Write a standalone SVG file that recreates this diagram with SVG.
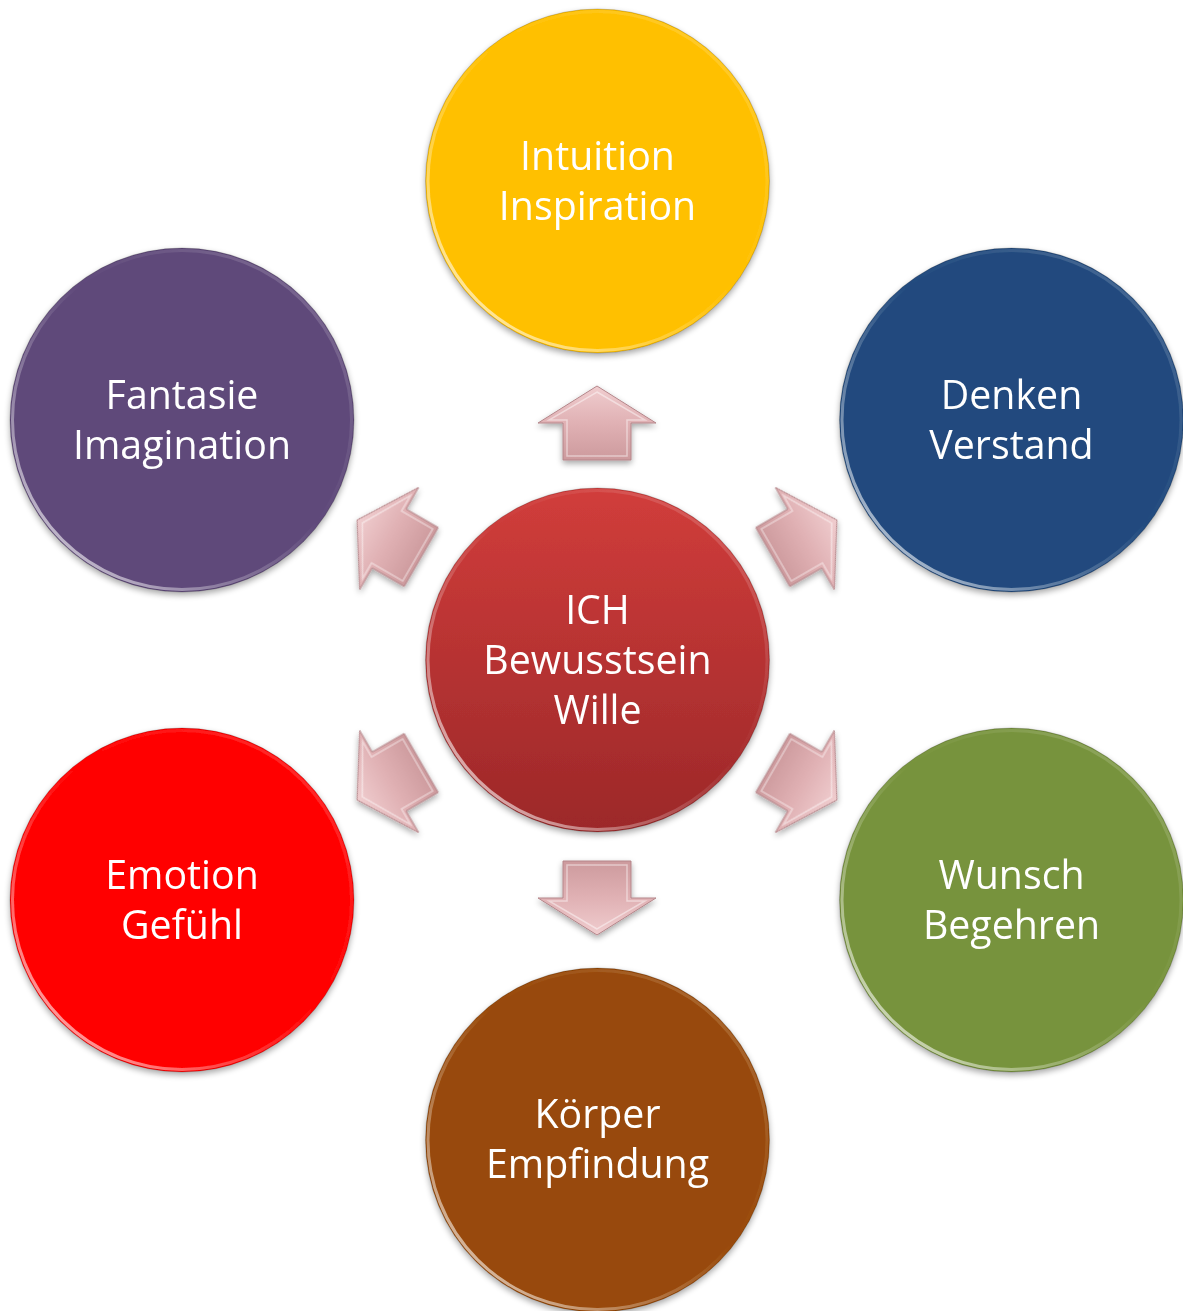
<svg xmlns="http://www.w3.org/2000/svg" width="1183" height="1311" viewBox="0 0 1183 1311">
<style>
.lbl{font-family:"Open Sans","Liberation Sans",sans-serif;font-size:39.3px;fill:#ffffff;text-anchor:middle}
.rim{fill:none;stroke:url(#rimG);stroke-width:3}
.edge{fill:none;stroke:#000;stroke-opacity:0.18;stroke-width:1}
</style>
<defs>
<filter id="sh" x="-20%" y="-20%" width="140%" height="140%">
<feGaussianBlur in="SourceAlpha" stdDeviation="3"/>
<feOffset dx="0" dy="3" result="b"/>
<feComponentTransfer><feFuncA type="linear" slope="0.35"/></feComponentTransfer>
<feMerge><feMergeNode/><feMergeNode in="SourceGraphic"/></feMerge>
</filter>
<linearGradient id="rimG" x1="0" y1="1" x2="1" y2="0">
<stop offset="0" stop-color="#fff" stop-opacity="0.85"/>
<stop offset="0.3" stop-color="#fff" stop-opacity="0.3"/>
<stop offset="0.55" stop-color="#fff" stop-opacity="0"/>
<stop offset="0.85" stop-color="#fff" stop-opacity="0.15"/>
<stop offset="1" stop-color="#fff" stop-opacity="0.05"/>
</linearGradient>
<linearGradient id="redG" x1="0" y1="0" x2="0" y2="1">
<stop offset="0" stop-color="#d13d3b"/>
<stop offset="1" stop-color="#9c2829"/>
</linearGradient>
<linearGradient id="arrG" x1="0" y1="0" x2="0" y2="1">
<stop offset="0" stop-color="#f0cdcf"/>
<stop offset="0.5" stop-color="#e0b1b4"/>
<stop offset="1" stop-color="#cd9a9d"/>
</linearGradient>
<g id="arrow">
<path d="M0,-38 L59,-1 L34,-1 L34,36 L-34,36 L-34,-1 L-59,-1 Z" fill="url(#arrG)" stroke="#b4868a" stroke-width="1"/>
<path d="M0,-32 L48,-4 L30,-4 L30,32 L-30,32 L-30,-4 L-48,-4 Z" fill="none" stroke="#ffffff" stroke-opacity="0.45" stroke-width="1.5"/>
</g>
</defs>
<rect width="1183" height="1311" fill="#ffffff"/>

<g id="connectors" filter="url(#sh)">
<use href="#arrow" transform="translate(597,424)"/>
<use href="#arrow" transform="translate(804,539) rotate(60)"/>
<use href="#arrow" transform="translate(804,781) rotate(120)"/>
<use href="#arrow" transform="translate(597,897) rotate(180)"/>
<use href="#arrow" transform="translate(390,781) rotate(240)"/>
<use href="#arrow" transform="translate(390,539) rotate(300)"/>
</g>

<g id="node-top" filter="url(#sh)">
<circle cx="597.5" cy="181" r="172" fill="#ffc000"/>
<circle class="rim" cx="597.5" cy="181" r="169.5"/>
<circle class="edge" cx="597.5" cy="181" r="172"/>
<text class="lbl" x="597.5" y="170">Intuition</text>
<text class="lbl" x="597.5" y="220">Inspiration</text>
</g>

<g id="node-topleft" filter="url(#sh)">
<circle cx="182" cy="420" r="172" fill="#5f497a"/>
<circle class="rim" cx="182" cy="420" r="169.5"/>
<circle class="edge" cx="182" cy="420" r="172"/>
<text class="lbl" x="182" y="409">Fantasie</text>
<text class="lbl" x="182" y="459">Imagination</text>
</g>

<g id="node-topright" filter="url(#sh)">
<circle cx="1011.5" cy="420" r="172" fill="#214a7e"/>
<circle class="rim" cx="1011.5" cy="420" r="169.5"/>
<circle class="edge" cx="1011.5" cy="420" r="172"/>
<text class="lbl" x="1011.5" y="409">Denken</text>
<text class="lbl" x="1011.5" y="459">Verstand</text>
</g>

<g id="node-center" filter="url(#sh)">
<circle cx="597.5" cy="660" r="172" fill="url(#redG)"/>
<circle class="rim" cx="597.5" cy="660" r="169.5"/>
<circle class="edge" cx="597.5" cy="660" r="172"/>
<text class="lbl" x="597.5" y="624">ICH</text>
<text class="lbl" x="597.5" y="674">Bewusstsein</text>
<text class="lbl" x="597.5" y="724">Wille</text>
</g>

<g id="node-bottomleft" filter="url(#sh)">
<circle cx="182" cy="900" r="172" fill="#ff0000"/>
<circle class="rim" cx="182" cy="900" r="169.5"/>
<circle class="edge" cx="182" cy="900" r="172"/>
<text class="lbl" x="182" y="889">Emotion</text>
<text class="lbl" x="182" y="939">Gefühl</text>
</g>

<g id="node-bottomright" filter="url(#sh)">
<circle cx="1011.5" cy="900" r="172" fill="#77933c"/>
<circle class="rim" cx="1011.5" cy="900" r="169.5"/>
<circle class="edge" cx="1011.5" cy="900" r="172"/>
<text class="lbl" x="1011.5" y="889">Wunsch</text>
<text class="lbl" x="1011.5" y="939">Begehren</text>
</g>

<g id="node-bottom" filter="url(#sh)">
<circle cx="597.5" cy="1140" r="172" fill="#984807"/>
<circle class="rim" cx="597.5" cy="1140" r="169.5"/>
<circle class="edge" cx="597.5" cy="1140" r="172"/>
<text class="lbl" x="597.5" y="1128">Körper</text>
<text class="lbl" x="597.5" y="1178">Empfindung</text>
</g>
</svg>
